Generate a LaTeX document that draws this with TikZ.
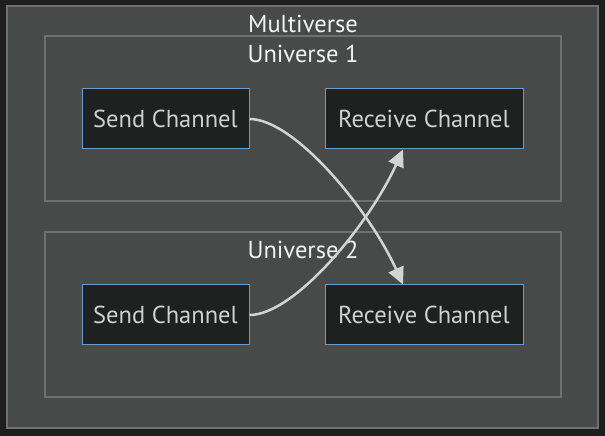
\documentclass[tikz,border=0pt]{standalone}
\usepackage{fontspec}
\setmainfont{PT Sans}
\usetikzlibrary{arrows.meta}
\definecolor{bgc}{HTML}{1E1E1E}
\definecolor{clfill}{HTML}{484A49}
\definecolor{cldraw}{HTML}{707070}
\definecolor{ndfill}{HTML}{1F2020}
\definecolor{nddraw}{HTML}{6A9CCB}
\definecolor{ndtext}{HTML}{D0D0D0}
\definecolor{cltext}{HTML}{F2F2F2}
\definecolor{edgec}{HTML}{D3D3D3}
\tikzset{
  cluster/.style={draw=cldraw, fill=clfill, line width=1.2pt},
  chan/.style={draw=nddraw, fill=ndfill, line width=1pt, text=ndtext, font=\fontsize{24.5}{28}\selectfont, inner sep=0pt, minimum height=60pt},
  cllabel/.style={text=cltext, font=\fontsize{24.5}{28}\selectfont, inner sep=0pt},
  edge/.style={draw=edgec, line width=2.5pt, -{Triangle[length=17pt,width=16pt]}},
}
\begin{document}
\begin{tikzpicture}[x=1pt,y=1pt]
\fill[bgc] (0,0) rectangle (605,436);
\useasboundingbox (0,0) rectangle (605,436);
\draw[cluster] (7,8) rectangle (598,430);
\draw[cluster] (45,235) rectangle (561,400);
\draw[cluster] (45,39) rectangle (561,204);
\node[cllabel] (mv) at (303,412) {Multiverse};
\node[cllabel] (u1) at (303,382) {Universe 1};
\node[cllabel] (u2) at (303,186) {Universe 2};
\node[chan, minimum width=167pt] (s1) at (165.5,317) {Send Channel};
\node[chan, minimum width=198pt] (r1) at (424,317) {Receive Channel};
\node[chan, minimum width=167pt] (s2) at (165.5,121) {Send Channel};
\node[chan, minimum width=198pt] (r2) at (424,121) {Receive Channel};
\draw[edge] (s1.east) .. controls ([xshift=45pt]s1.east) and ([xshift=-55pt,yshift=75pt]r2.north) .. ([xshift=-21pt]r2.north);
\draw[edge] (s2.east) .. controls ([xshift=45pt]s2.east) and ([xshift=-55pt,yshift=-75pt]r1.south) .. ([xshift=-21pt]r1.south);
\end{tikzpicture}
\end{document}
